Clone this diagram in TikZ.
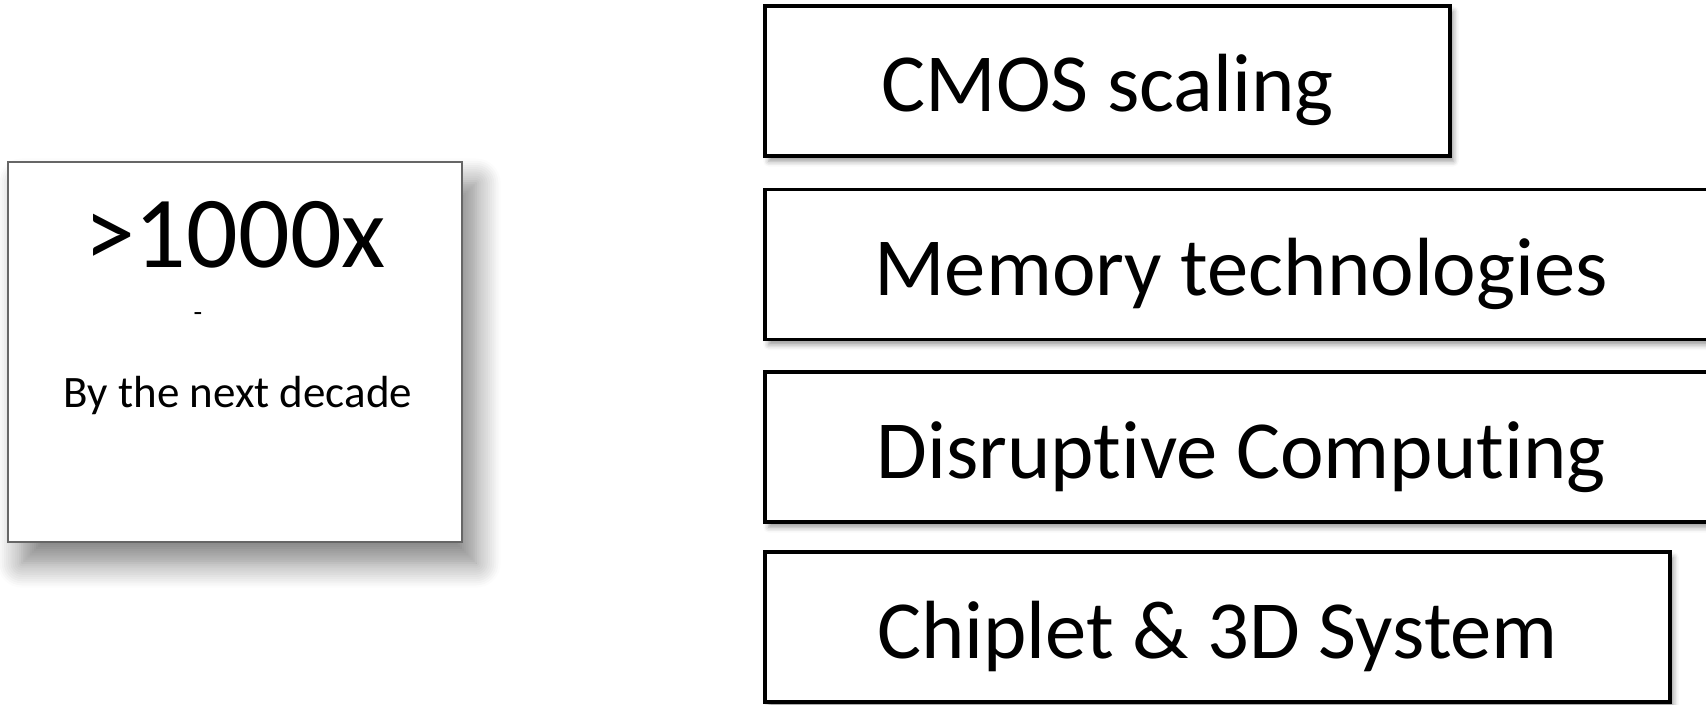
\documentclass[tikz,border=0pt]{standalone}
\usepackage{fontspec}
\setmainfont{Carlito}[Ligatures=NoCommon]
\usetikzlibrary{shadows.blur}

\tikzset{
    techbox/.style={draw=black, line width=1pt, fill=white, minimum height=1.5cm,
        inner sep=0pt, text height=0.8cm, text depth=0.18cm, font=\fontsize{23.5}{28}\selectfont,
        blur shadow={shadow xshift=1pt, shadow yshift=-1.5pt, shadow blur radius=1.5pt, shadow opacity=40}},
    gainbox/.style={draw=black!60, line width=0.6pt, fill=white, minimum width=4.54cm,
        minimum height=3.8cm, inner sep=0pt,
        blur shadow={shadow xshift=4pt, shadow yshift=-6pt, shadow blur radius=7pt, shadow opacity=50, shadow blur steps=12}}
}

\begin{document}
\begin{tikzpicture}
    	\useasboundingbox (0, 0) rectangle (17.06, 7.04);
    	
    	% left box
    	\node[gainbox] (gain) at (2.35, 3.52) {};
    	\node[anchor=base, font=\fontsize{29}{34}\selectfont] (factor) at (2.35, 4.37) {>1000x};
    	\node[anchor=base, font=\fontsize{8}{10}\selectfont] (dash) at (1.98, 3.82) {-};
    	\node[anchor=base, font=\fontsize{12.8}{15}\selectfont] (decade) at (2.38, 2.97) {By the next decade};
    	
    	% right column
    	\node[techbox, minimum width=6.85cm] (cmos)     at (11.075, 6.23)  {CMOS scaling};
    	\node[techbox, minimum width=9.52cm] (memory)   at (12.41, 4.395) {Memory technologies};
    	\node[techbox, minimum width=9.52cm] (disrupt)  at (12.41, 2.57)  {Disruptive Computing};
    	\node[techbox, minimum width=9.05cm] (chiplet)  at (12.175, 0.77) {Chiplet \& 3D System};
    	
\end{tikzpicture}
\end{document}
